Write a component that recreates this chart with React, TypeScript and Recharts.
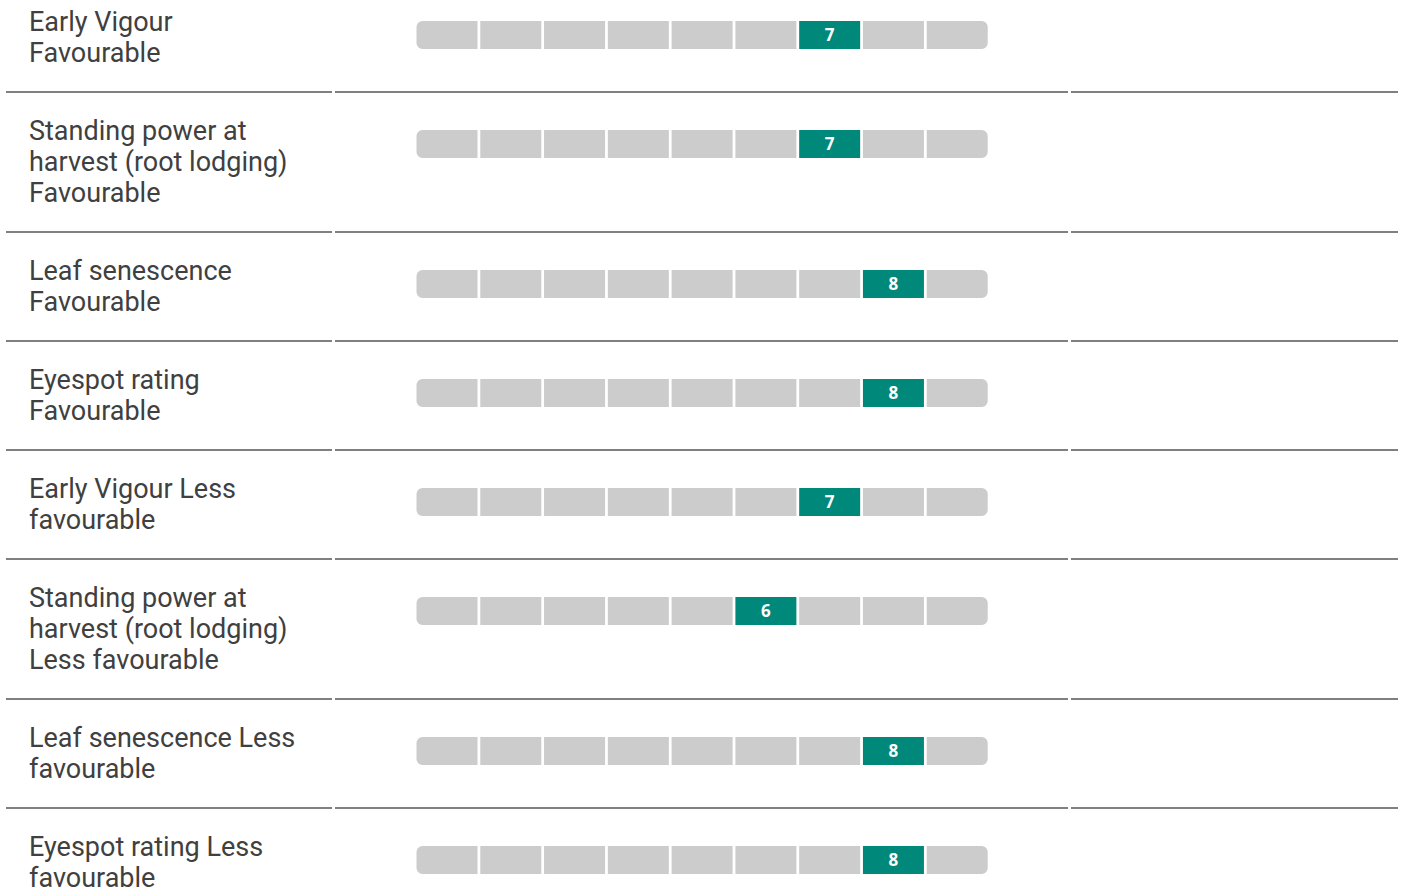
import { BarChart, Bar, XAxis, YAxis, Cell, LabelList, Rectangle } from 'recharts';

const LABELS = [
  'Early Vigour\nFavourable',
  'Standing power at\nharvest (root lodging)\nFavourable',
  'Leaf senescence\nFavourable',
  'Eyespot rating\nFavourable',
  'Early Vigour Less\nfavourable',
  'Standing power at\nharvest (root lodging)\nLess favourable',
  'Leaf senescence Less\nfavourable',
  'Eyespot rating Less\nfavourable',
];
const SCORES = [7, 7, 8, 8, 7, 6, 8, 8];
const SCALE = [1, 2, 3, 4, 5, 6, 7, 8, 9];

const TEAL = '#00897b';
const GREY = '#cccccc';
const RULE = '#808080';

function RatingBar({ score }: { score: number }) {
  const data = SCALE.map((s) => ({ step: s, v: 1, label: s === score ? String(s) : '' }));
  return (
    <BarChart width={574} height={28} data={data} margin={{ top: 0, right: 0, bottom: 0, left: 0 }} barCategoryGap={1.5}>
      <XAxis dataKey="step" type="category" hide />
      <YAxis type="number" domain={[0, 1]} hide />
      <Bar
        dataKey="v"
        isAnimationActive={false}
        shape={(p: any) => {
          const first = p.payload?.step === SCALE[0];
          const last = p.payload?.step === SCALE[SCALE.length - 1];
          const r: [number, number, number, number] = first ? [6, 0, 0, 6] : last ? [0, 6, 6, 0] : [0, 0, 0, 0];
          return <Rectangle x={p.x} y={p.y} width={p.width} height={p.height} fill={p.fill} radius={r} />;
        }}
      >
        {data.map((d) => (
          <Cell key={d.step} fill={d.step === score ? TEAL : GREY} />
        ))}
        <LabelList
          dataKey="label"
          position="center"
          fill="#ffffff"
          style={{ fontFamily: '"Open Sans", sans-serif', fontWeight: 700, fontSize: 17 }}
        />
      </Bar>
    </BarChart>
  );
}

export default function App() {
  return (
    <div
      style={{
        position: 'absolute',
        left: 0,
        top: 0,
        width: 1404,
        height: 890,
        overflow: 'hidden',
        background: '#fff',
        fontFamily: 'Roboto, sans-serif',
      }}
    >
      <div style={{ position: 'absolute', top: -16, left: 6, width: 1392 }}>
        {LABELS.map((label, i) => (
          <div key={i} style={{ display: 'flex', gap: 3 }}>
            <div
              style={{
                width: 326,
                padding: '23px 0 22px 23px',
                boxSizing: 'border-box',
                borderBottom: `2px solid ${RULE}`,
                whiteSpace: 'pre-line',
                fontSize: 27,
                lineHeight: '31px',
                color: '#404040',
              }}
            >
              {label}
            </div>
            <div style={{ width: 733, borderBottom: `2px solid ${RULE}`, position: 'relative' }}>
              <div style={{ position: 'absolute', left: 80, top: 37 }}>
                <RatingBar score={SCORES[i]} />
              </div>
            </div>
            <div style={{ width: 327, borderBottom: `2px solid ${RULE}` }} />
          </div>
        ))}
      </div>
    </div>
  );
}
